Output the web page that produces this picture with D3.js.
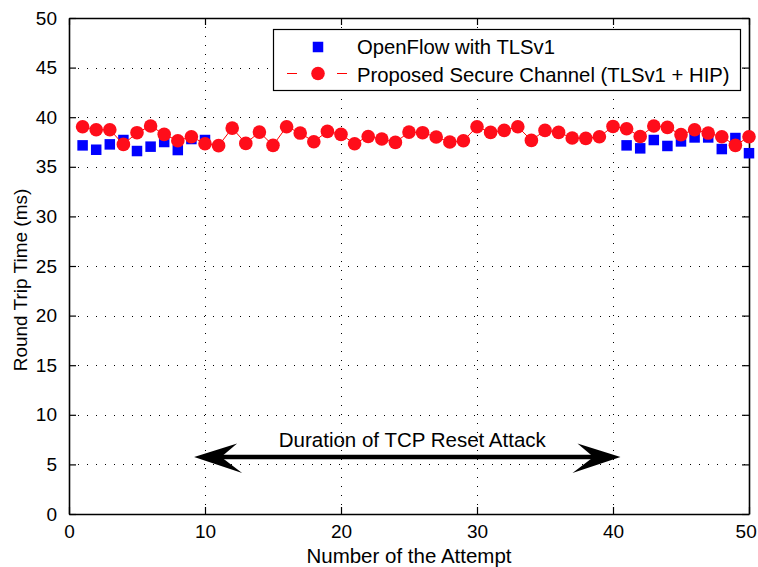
<!DOCTYPE html>
<html><head><meta charset="utf-8">
<script src="https://cdn.jsdelivr.net/npm/d3@7"></script>
<style>
body{margin:0;background:#fff;}
text{font-family:"Liberation Sans",Arial,Helvetica,sans-serif;fill:#000;}
</style></head>
<body>
<svg id="chart" width="758" height="567"></svg>
<script>
// ---- data ----
const attemptsOpenFlow = [1,2,3,4,5,6,7,8,9,10,41,42,43,44,45,46,47,48,49,50];
const rttOpenFlow = [37.16,36.72,37.26,37.7,36.59,37.03,37.5,36.69,37.8,37.7,
                     37.16,36.86,37.7,37.1,37.56,37.96,37.96,36.79,37.9,36.37];
const attemptsProposed = d3.range(1,51);
const rttProposed = [39.04,38.74,38.74,37.26,38.44,39.11,38.27,37.63,38.03,37.33,
                     37.13,38.9,37.36,38.5,37.16,39.04,38.4,37.53,38.57,38.27,
                     37.33,38.06,37.8,37.46,38.5,38.44,38.0,37.5,37.63,39.04,
                     38.47,38.67,39.04,37.66,38.67,38.47,37.9,37.87,38.03,39.07,
                     38.84,38.06,39.11,38.97,38.24,38.74,38.4,38.03,37.16,38.03];
const seriesNames = ["OpenFlow with TLSv1","Proposed Secure Channel (TLSv1 + HIP)"];
const xTicks = [0,10,20,30,40,50];
const yTicks = [0,5,10,15,20,25,30,35,40,45,50];
const attackRange = [9.2,40.55];
const attackLevel = 5.75;
const attackLabel = "Duration of TCP Reset Attack";
const xLabel = "Number of the Attempt";
const yLabel = "Round Trip Time (ms)";

// ---- layout ----
const L=69,R=749,T=18,B=514;
const svg = d3.select("#chart");
const x = d3.scaleLinear().domain([0,50]).range([L,R]);
const y = d3.scaleLinear().domain([0,50]).range([B,T]);

// grid
const grid = svg.append("g").attr("stroke","#000").attr("stroke-width",1)
  .attr("stroke-dasharray","1.2,7.8").attr("shape-rendering","crispEdges");
grid.selectAll(".gx").data(xTicks.slice(1,-1)).enter().append("line")
  .attr("x1",d=>Math.round(x(d))+0.5).attr("x2",d=>Math.round(x(d))+0.5)
  .attr("y1",B).attr("y2",T);
grid.selectAll(".gy").data(yTicks.slice(1,-1)).enter().append("line")
  .attr("y1",d=>Math.round(y(d))+0.5).attr("y2",d=>Math.round(y(d))+0.5)
  .attr("x1",L).attr("x2",R);

// axes (ticks inward, mirrored)
const tl = 7;
const axB = svg.append("g").attr("transform",`translate(0,${B})`)
  .call(d3.axisBottom(x).tickValues(xTicks).tickSizeInner(-tl).tickSizeOuter(0).tickPadding(11));
const axT = svg.append("g").attr("transform",`translate(0,${T})`)
  .call(d3.axisTop(x).tickValues(xTicks).tickSizeInner(-tl).tickSizeOuter(0).tickFormat(""));
const axL = svg.append("g").attr("transform",`translate(${L},0)`)
  .call(d3.axisLeft(y).tickValues(yTicks).tickSizeInner(-tl).tickSizeOuter(0).tickPadding(12));
const axR = svg.append("g").attr("transform",`translate(${R},0)`)
  .call(d3.axisRight(y).tickValues(yTicks).tickSizeInner(-tl).tickSizeOuter(0).tickFormat(""));
[axB,axT,axL,axR].forEach(a=>{
  a.select(".domain").attr("stroke","#000").attr("stroke-width",1.6);
  a.selectAll(".tick line").attr("stroke","#000").attr("stroke-width",1.2);
  a.selectAll(".tick text").attr("font-size",19).attr("font-family","Liberation Sans, Arial, sans-serif").attr("fill","#000");
});
axB.selectAll(".tick text").filter(d=>d===50).attr("text-anchor","end").attr("dx","0.38em");

// blue squares
const sq = 10.5;
svg.append("g").selectAll("rect").data(attemptsOpenFlow.map((a,i)=>[a,rttOpenFlow[i]]))
  .enter().append("rect")
  .attr("x",d=>x(d[0])-sq/2).attr("y",d=>y(d[1])-sq/2)
  .attr("width",sq).attr("height",sq).attr("fill","#0000ff");

// red line + circles
const pts = attemptsProposed.map((a,i)=>[a,rttProposed[i]]);
svg.append("path").datum(pts)
  .attr("d",d3.line().x(d=>x(d[0])).y(d=>y(d[1])))
  .attr("fill","none").attr("stroke","#ff0000").attr("stroke-width",1);
svg.append("g").selectAll("circle").data(pts).enter().append("circle")
  .attr("cx",d=>x(d[0])).attr("cy",d=>y(d[1])).attr("r",6.8).attr("fill","#ff0d1a");

// legend
const lg = svg.append("g");
lg.append("rect").attr("x",273.5).attr("y",29.5).attr("width",467).attr("height",61)
  .attr("fill","#fff").attr("stroke","#000").attr("stroke-width",1.2);
lg.append("rect").attr("x",318-sq/2).attr("y",47-sq/2).attr("width",sq).attr("height",sq).attr("fill","#0000ff");
lg.append("line").attr("x1",287).attr("x2",297).attr("y1",73.5).attr("y2",73.5).attr("stroke","#ff0000").attr("stroke-width",1);
lg.append("line").attr("x1",337).attr("x2",347).attr("y1",73.5).attr("y2",73.5).attr("stroke","#ff0000").attr("stroke-width",1);
lg.append("circle").attr("cx",318).attr("cy",73.5).attr("r",6.8).attr("fill","#ff0d1a");
lg.append("text").attr("x",357).attr("y",54).attr("font-size",20.3).text(seriesNames[0]);
lg.append("text").attr("x",357).attr("y",82).attr("font-size",20.3).text(seriesNames[1]);

// arrow
const ax1 = x(attackRange[0]), ax2 = x(attackRange[1]), ay = y(attackLevel);
svg.append("line").attr("x1",ax1+20).attr("x2",ax2-20).attr("y1",ay).attr("y2",ay)
  .attr("stroke","#000").attr("stroke-width",4.5);
const headL = `M${ax1},${ay} L${ax1+43},${ay-13.5} L${ax1+27},${ay} L${ax1+48},${ay+16} Z`;
const headR = `M${ax2},${ay} L${ax2-43},${ay-13.5} L${ax2-27},${ay} L${ax2-48},${ay+16} Z`;
svg.append("path").attr("d",headL).attr("fill","#000");
svg.append("path").attr("d",headR).attr("fill","#000");
svg.append("text").attr("x",(ax1+ax2)/2+5).attr("y",447).attr("text-anchor","middle")
  .attr("font-size",20.5).text(attackLabel);

// axis labels
svg.append("text").attr("x",(L+R)/2).attr("y",563).attr("text-anchor","middle")
  .attr("font-size",20.5).text(xLabel);
svg.append("text").attr("transform",`translate(27,${(T+B)/2+14}) rotate(-90)`)
  .attr("text-anchor","middle").attr("font-size",19).text(yLabel);
</script>
</body></html>
